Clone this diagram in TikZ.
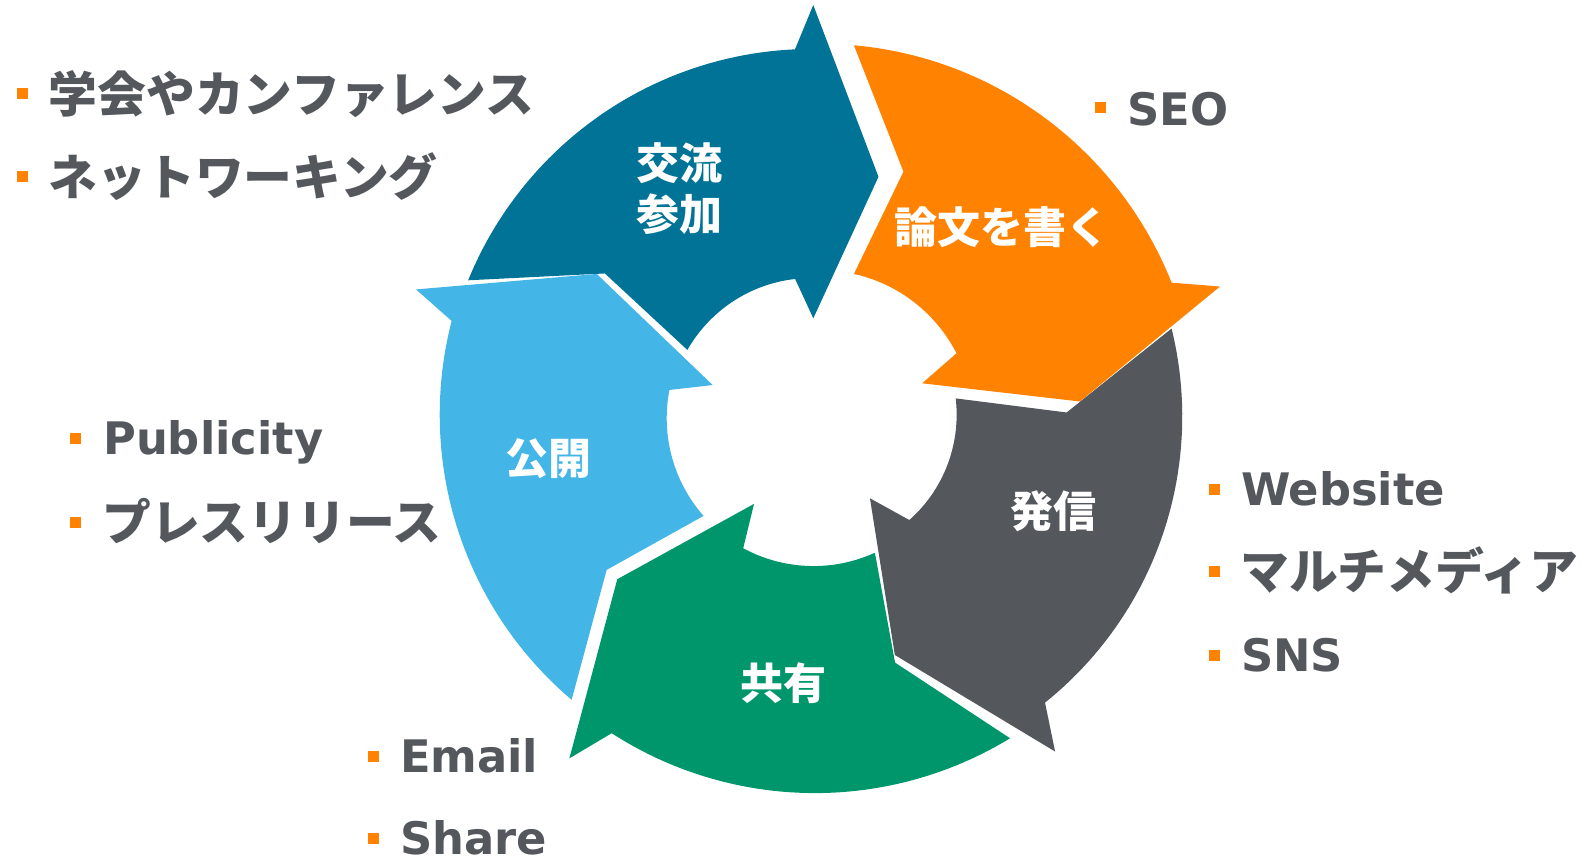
\documentclass[tikz,border=0pt]{standalone}
\usepackage{fontspec}
\newfontfamily\jp{Noto Sans CJK JP}
\newfontfamily\lat{DejaVu Sans}
\definecolor{cdb}{RGB}{0,115,150}
\definecolor{cor}{RGB}{255,131,0}
\definecolor{cgy}{RGB}{84,87,92}
\definecolor{cgr}{RGB}{0,150,108}
\definecolor{clb}{RGB}{67,181,230}
\definecolor{ctx}{RGB}{84,87,92}
\tikzset{
  lab/.style={text=white, inner sep=0pt, align=center, font=\jp\bfseries\fontsize{43}{51}\selectfont},
  bul/.style={fill=cor, minimum size=11pt, inner sep=0pt, draw=none},
  itemlat/.style={anchor=west, inner sep=0pt, text=ctx, text height=32.4pt, text depth=0pt, font=\lat\bfseries\fontsize{44.8}{50}\selectfont},
  itemjp/.style={anchor=west, inner sep=0pt, text=ctx, text height=42.9pt, text depth=5.9pt, font=\jp\bfseries\fontsize{48.8}{56}\selectfont},
}
\begin{document}
\begin{tikzpicture}[x=1pt,y=1pt]
\useasboundingbox (0,0) rectangle (1583,-861);
\begin{scope}[shift={(814.7,-418.2)}]
% dark blue
\fill[cdb] (158.3:373)
  -- plot[domain=158.3:93.06, samples=50, variable=\t] (\t:{373+(369.4-373)*(\t-158.3)/(93.06-158.3)})
  -- (90.2:413.2) -- (75.2:249.7) -- (90.8:99.9) -- (98:140.6)
  -- plot[domain=98:151.8, samples=40, variable=\t] (\t:{140.6+(144.5-140.6)*(\t-98)/(151.8-98)})
  -- (145.4:254.9) -- cycle;
% orange
\fill[cor] (84:375)
  -- plot[domain=84:20.8, samples=50, variable=\t] (\t:{375+(381.8-375)*(\t-84)/(20.8-84)})
  -- (18:426.1) -- (3.6:265.8) -- (18:113) -- (24.6:156)
  -- plot[domain=24.6:74.8, samples=40, variable=\t] (\t:{156+(149.5-156)*(\t-24.6)/(74.8-24.6)})
  -- (70.2:262) -- cycle;
% gray
\fill[cgy] (14.1:368)
  -- plot[domain=14.1:-51, samples=50, variable=\t] (\t:{368+(366-368)*(\t-14.1)/(-51-14.1)})
  -- (-54.2:411) -- (-71.3:250) -- (-55.4:97.3) -- (-47.1:139)
  -- plot[domain=-47.1:8.0, samples=40, variable=\t] (\t:{139+(142.4-139)*(\t+47.1)/(8.0+47.1)})
  -- (1.3:252) -- cycle;
% green
\fill[cgr] (-58.6:375)
  -- plot[domain=-58.6:-122.8, samples=50, variable=\t] (\t:{375+(374.8-375)*(\t+58.6)/(-122.8+58.6)})
  -- (-125.8:419.4) -- (-140.8:254.8) -- (-125.3:105) -- (-118.8:148.4)
  -- plot[domain=-118.8:-65.9, samples=40, variable=\t] (\t:{148.4+(147.4-148.4)*(\t+118.8)/(-65.9+118.8)})
  -- (-71.8:257.3) -- cycle;
% light blue
\fill[clb] (-130.8:372)
  -- plot[domain=-130.8:-195, samples=50, variable=\t] (\t:{372+(375.9-372)*(\t+130.8)/(-195+130.8)})
  -- (-197.9:419) -- (-213.5:261.4) -- (-198:107.3) -- (-191:148)
  -- plot[domain=-191:-138.7, samples=40, variable=\t] (\t:{148})
  -- (-143.9:257.5) -- cycle;
\end{scope}
% labels in arrows
\node[lab] (l1) at (679,-188.5) {交流\\参加};
\node[lab] (l2) at (1002,-226.7) {論文を書く};
\node[lab] (l3) at (1053.3,-511) {発信};
\node[lab] (l4) at (783.7,-683.5) {共有};
\node[lab] (l5) at (548,-459) {公開};
% side items
\node[bul] (b1) at (22.2,-94) {};
\node[itemjp] (t1) at (48.5,-94) {学会やカンファレンス};
\node[bul] (b2) at (22.2,-176.7) {};
\node[itemjp] (t2) at (48.5,-176.7) {ネットワーキング};
\node[bul] (b3) at (1100.5,-108) {};
\node[itemlat] (t3) at (1127,-109) {SEO};
\node[bul] (b4) at (75.7,-438) {};
\node[itemlat] (t4) at (103,-438) {Publicity};
\node[bul] (b5) at (75.7,-522) {};
\node[itemjp] (t5) at (102,-522) {プレスリリース};
\node[bul] (b6) at (1214.6,-489.7) {};
\node[itemlat] (t6) at (1240.8,-489.7) {Website};
\node[bul] (b7) at (1214.6,-571.4) {};
\node[itemjp] (t7) at (1240,-571.4) {マルチメディア};
\node[bul] (b8) at (1214.6,-655) {};
\node[itemlat] (t8) at (1240.8,-655) {SNS};
\node[bul] (b9) at (373.6,-756) {};
\node[itemlat] (t9) at (399.8,-756) {Email};
\node[bul] (b10) at (373.6,-838) {};
\node[itemlat] (t10) at (399.8,-838) {Share};
\end{tikzpicture}
\end{document}
